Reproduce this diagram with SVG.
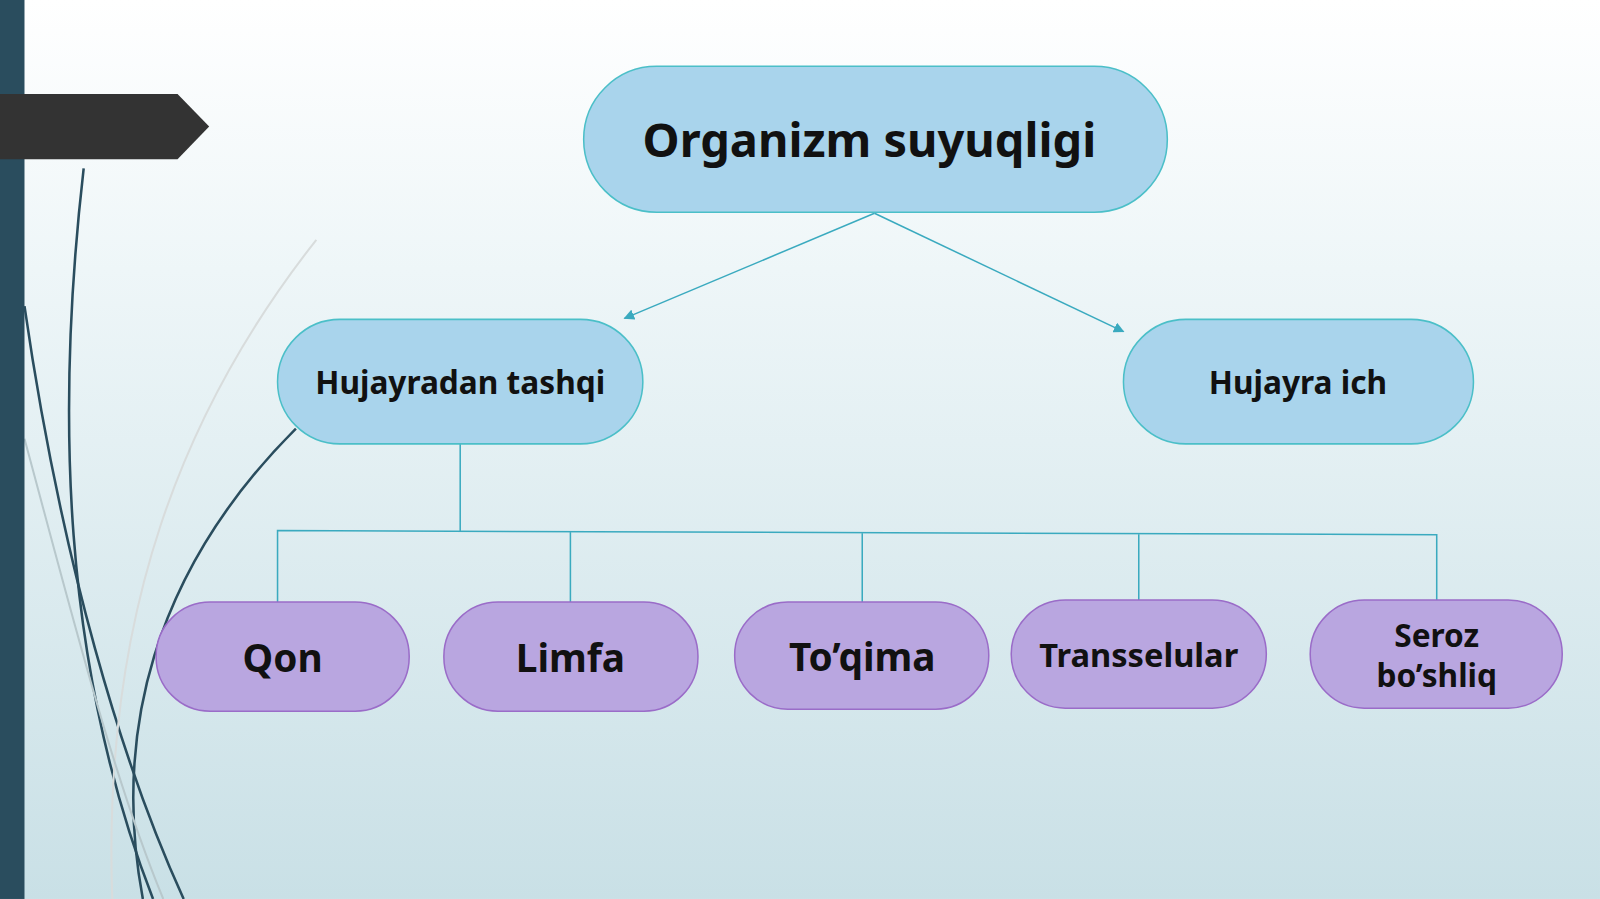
<svg xmlns="http://www.w3.org/2000/svg" width="1600" height="899" viewBox="0 0 1600 899">
<defs>
<linearGradient id="bg" x1="0" y1="0" x2="0" y2="1"><stop offset="0" stop-color="#ffffff"/><stop offset="0.3" stop-color="#eef6f8"/><stop offset="1" stop-color="#c9e0e6"/></linearGradient>
<marker id="ar" viewBox="0 0 10 10" refX="9" refY="5" markerWidth="7" markerHeight="7" orient="auto"><path d="M0,0L10,5L0,10z" fill="#3aaabf"/></marker>
<style>
.b{fill:#a9d4ec;stroke:#4bbfc8;stroke-width:1.5}
.p{fill:#b9a6e0;stroke:#9a6cc8;stroke-width:1.5}
.t{font-family:"Noto Sans","Open Sans",sans-serif;font-weight:bold;fill:#111;text-anchor:middle}
.c{stroke:#3aaabf;stroke-width:1.5;fill:none}
.d{fill:none;stroke:#2a4d5e;stroke-width:2.5}
</style>
</defs>
<g transform="scale(1.0204)">
<rect width="1568" height="881" fill="url(#bg)"/>
<g id="decor">
<path class="d" d="M82,165 C55,400 60,650 150,881"/>
<path class="d" d="M24,300 C60,550 120,750 180,881"/>
<path class="d" d="M290,420 C150,560 110,720 140,881"/>
<path d="M310,235 C180,400 100,600 110,881" fill="none" stroke="#d8dcdc" stroke-width="2"/>
<path d="M24,430 C70,600 110,760 160,881" fill="none" stroke="#b8c8cc" stroke-width="2"/>
<rect x="0" y="0" width="24" height="881" fill="#2a4d5e"/>
<path d="M0,92H174L205,124L174,156H0z" fill="#333"/>
</g>
<g id="connectors">
<path class="c" d="M857,209L612,312" marker-end="url(#ar)"/>
<path class="c" d="M857,209L1101,325" marker-end="url(#ar)"/>
<path class="c" d="M451,435V520M272,590V520L1408,524V588M559,590V521M845,590V522M1116,588V523"/>
</g>
<g id="n0"><rect class="b" x="572" y="65" width="572" height="143" rx="71.5"/><text class="t" x="852" y="154" font-size="46">Organizm suyuqligi</text></g>
<g id="n1"><rect class="b" x="272" y="313" width="358" height="122" rx="61"/><text class="t" x="451" y="386" font-size="31">Hujayradan tashqi</text></g>
<g id="n2"><rect class="b" x="1101" y="313" width="343" height="122" rx="61"/><text class="t" x="1272" y="386" font-size="31">Hujayra ich</text></g>
<g id="n3"><rect class="p" x="153" y="590" width="248" height="107" rx="53"/><text class="t" x="277" y="659" font-size="38">Qon</text></g>
<g id="n4"><rect class="p" x="435" y="590" width="249" height="107" rx="53"/><text class="t" x="559" y="659" font-size="38">Limfa</text></g>
<g id="n5"><rect class="p" x="720" y="590" width="249" height="105" rx="52"/><text class="t" x="845" y="658" font-size="38">To’qima</text></g>
<g id="n6"><rect class="p" x="991" y="588" width="250" height="106" rx="53"/><text class="t" x="1116" y="654" font-size="32">Transselular</text></g>
<g id="n7"><rect class="p" x="1284" y="588" width="247" height="106" rx="53"/><text class="t" x="1408" y="634" font-size="31">Seroz</text><text class="t" x="1408" y="673" font-size="31">bo’shliq</text></g>
</g>
</svg>
